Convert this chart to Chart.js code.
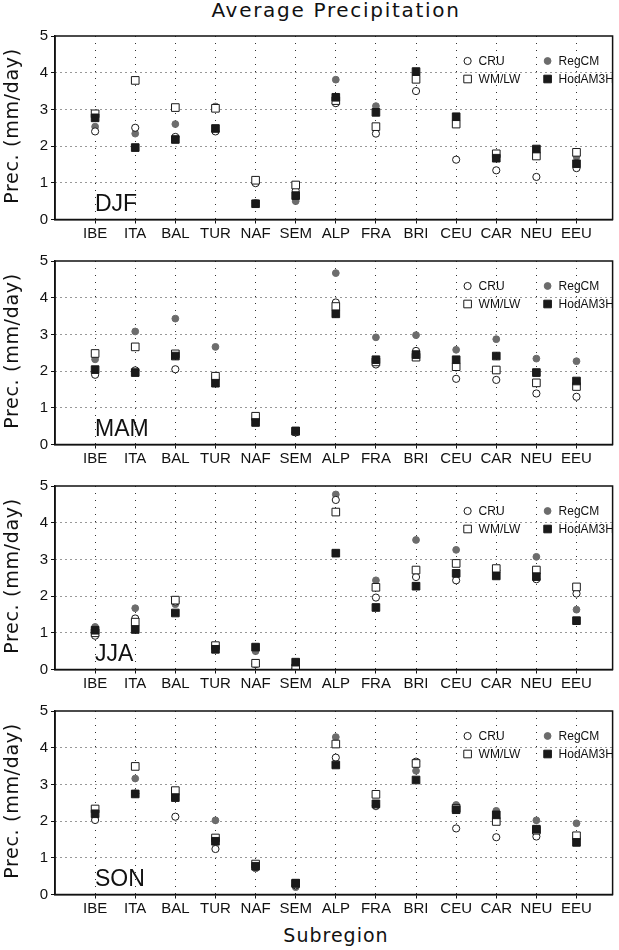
<!DOCTYPE html>
<html>
<head>
<meta charset="utf-8">
<script src="https://cdn.jsdelivr.net/npm/chart.js@4.4.1/dist/chart.umd.min.js"></script>
<style>
  body { margin: 0; width: 619px; height: 950px; position: relative; background: #fff; overflow: hidden; }
  .txt { position: absolute; color: #111; font-family: "DejaVu Sans", sans-serif; white-space: nowrap; }
  .panel { position: absolute; left: 0; width: 619px; height: 222px; }
</style>
</head>
<body>
<div class="txt" style="left:136px;width:400px;top:-2px;text-align:center;font-size:20px;letter-spacing:1.7px;">Average Precipitation</div>
<div class="txt" style="left:136px;width:400px;top:924px;text-align:center;font-size:19px;letter-spacing:1px;">Subregion</div>
<div id="panels"></div>
<script>
const regions = ['IBE', 'ITA', 'BAL', 'TUR', 'NAF', 'SEM', 'ALP', 'FRA', 'BRI', 'CEU', 'CAR', 'NEU', 'EEU'];
const seasons = ['DJF', 'MAM', 'JJA', 'SON'];
const seriesNames = ['CRU', 'RegCM', 'WM/LW', 'HodAM3H'];
const yTicks = [0, 1, 2, 3, 4, 5];

// mm/day per subregion, one array per series and season
const cruDJF   = [2.40, 2.50, 2.25, 2.40, 0.99, 0.78, 3.17, 2.34, 3.50, 1.63, 1.34, 1.16, 1.40];
const regcmDJF = [2.53, 2.34, 2.60, 3.08, 0.45, 0.50, 3.81, 3.09, 3.95, 2.70, 1.75, 1.80, 1.72];
const wmlwDJF  = [2.88, 3.79, 3.05, 3.03, 1.07, 0.94, 3.24, 2.53, 3.82, 2.60, 1.79, 1.73, 1.83];
const hadDJF   = [2.77, 1.96, 2.18, 2.48, 0.43, 0.65, 3.33, 2.92, 4.03, 2.80, 1.67, 1.92, 1.52];

const cruMAM   = [1.90, 2.02, 2.05, 1.82, 0.70, 0.33, 3.87, 2.18, 2.55, 1.79, 1.76, 1.39, 1.30];
const regcmMAM = [2.32, 3.08, 3.43, 2.66, 0.65, 0.33, 4.67, 2.92, 2.98, 2.58, 2.87, 2.34, 2.27];
const wmlwMAM  = [2.48, 2.66, 2.47, 1.86, 0.77, 0.36, 3.76, 2.25, 2.38, 2.12, 2.03, 1.68, 1.58];
const hadMAM   = [2.04, 1.96, 2.41, 1.67, 0.60, 0.37, 3.56, 2.31, 2.45, 2.31, 2.41, 1.96, 1.73];

const cruJJA   = [0.92, 1.39, 1.85, 0.65, 0.15, 0.03, 4.62, 1.96, 2.52, 2.43, 2.70, 2.46, 2.07];
const regcmJJA = [1.16, 1.67, 1.78, 0.60, 0.50, 0.10, 4.77, 2.43, 3.53, 3.26, 2.70, 3.07, 1.63];
const wmlwJJA  = [1.00, 1.29, 1.89, 0.65, 0.17, 0.04, 4.29, 2.24, 2.71, 2.89, 2.75, 2.71, 2.25];
const hadJJA   = [1.07, 1.09, 1.54, 0.55, 0.61, 0.20, 3.17, 1.69, 2.27, 2.62, 2.55, 2.53, 1.33];

const cruSON   = [2.03, 2.75, 2.12, 1.24, 0.75, 0.25, 3.73, 2.42, 3.62, 1.80, 1.56, 1.58, 1.55];
const regcmSON = [2.10, 3.16, 2.70, 2.02, 0.71, 0.20, 4.29, 2.40, 3.37, 2.44, 2.28, 2.02, 1.94];
const wmlwSON  = [2.33, 3.49, 2.83, 1.54, 0.83, 0.30, 4.10, 2.73, 3.57, 2.35, 1.99, 1.75, 1.60];
const hadSON   = [2.20, 2.74, 2.64, 1.45, 0.77, 0.31, 3.53, 2.47, 3.12, 2.31, 2.17, 1.78, 1.42];

const seasonData = {
  DJF: [cruDJF, regcmDJF, wmlwDJF, hadDJF],
  MAM: [cruMAM, regcmMAM, wmlwMAM, hadMAM],
  JJA: [cruJJA, regcmJJA, wmlwJJA, hadJJA],
  SON: [cruSON, regcmSON, wmlwSON, hadSON]
};

const panelTops = [32, 257, 482, 707];
const GRAY = '#6c6c6c';
const DARK = '#1a1a1a';

// marker look per series: CRU open circle, RegCM gray dot, WM/LW open square, HadAM3H black square
const styles = [
  { pointStyle: 'circle', radius: 3.6, fill: '#fff', stroke: DARK, order: 2 },
  { pointStyle: 'circle', radius: 3.4, fill: GRAY, stroke: GRAY, order: 3 },
  { pointStyle: 'rect', radius: 5.4, fill: '#fff', stroke: DARK, order: 1 },
  { pointStyle: 'rect', radius: 5.4, fill: DARK, stroke: DARK, order: 0 }
];

function marker(ctx, st, x, y) {
  ctx.fillStyle = st.fill;
  ctx.strokeStyle = st.stroke;
  ctx.lineWidth = 1;
  ctx.beginPath();
  if (st.pointStyle === 'circle') {
    ctx.arc(x, y, st.radius, 0, Math.PI * 2);
  } else {
    const s = st.radius * Math.SQRT1_2;
    ctx.rect(x - s, y - s, 2 * s, 2 * s);
  }
  ctx.fill();
  ctx.stroke();
}

const panelDeco = {
  id: 'panelDeco',
  afterDraw(chart, args, opts) {
    const { ctx, chartArea: a } = chart;
    ctx.save();
    ctx.strokeStyle = '#111';
    ctx.lineWidth = 1.5;
    ctx.strokeRect(a.left, a.top, a.right - a.left, a.bottom - a.top);

    ctx.fillStyle = '#111';
    ctx.font = '23px "Liberation Sans", sans-serif';
    ctx.textBaseline = 'alphabetic';
    ctx.fillText(opts.season, a.left + 40, a.bottom - 9);

    ctx.font = '12px "Liberation Sans Narrow", "Liberation Sans", sans-serif';
    ctx.textBaseline = 'middle';
    const cols = [a.right - 145, a.right - 65];
    const rows = [a.top + 25, a.top + 43];
    seriesNames.forEach((name, i) => {
      const x = cols[i % 2], y = rows[Math.floor(i / 2)];
      marker(ctx, styles[i], x, y);
      ctx.fillStyle = '#111';
      ctx.fillText(name, x + 11, y + 0.5);
    });
    ctx.restore();
  }
};

const holder = document.getElementById('panels');

seasons.forEach((season, p) => {
  const top = panelTops[p];
  const div = document.createElement('div');
  div.className = 'panel';
  div.style.top = (top - 8) + 'px';
  const canvas = document.createElement('canvas');
  canvas.width = 619;
  canvas.height = 222;
  div.appendChild(canvas);
  holder.appendChild(div);

  const ytitle = document.createElement('div');
  ytitle.className = 'txt';
  ytitle.textContent = 'Prec. (mm/day)';
  ytitle.style.cssText += 'left:11px;top:' + (top + 94) + 'px;font-size:19px;letter-spacing:0.7px;transform:translate(-50%,-50%) rotate(-90deg);';
  document.body.appendChild(ytitle);

  const datasets = seasonData[season].map((vals, i) => ({
    label: seriesNames[i],
    data: vals.map((v, k) => ({ x: k + 1, y: v })),
    pointStyle: styles[i].pointStyle,
    pointRadius: styles[i].radius,
    pointBackgroundColor: styles[i].fill,
    pointBorderColor: styles[i].stroke,
    pointBorderWidth: 1,
    showLine: false,
    order: styles[i].order
  }));

  new Chart(canvas, {
    type: 'scatter',
    data: { datasets },
    options: {
      responsive: false,
      animation: false,
      events: [],
      layout: { padding: { top: 8, right: 2, left: 0, bottom: 0 } },
      plugins: {
        legend: { display: false },
        tooltip: { enabled: false },
        panelDeco: { season }
      },
      scales: {
        x: {
          type: 'linear',
          min: 0,
          max: 13.9,
          afterBuildTicks: s => { s.ticks = regions.map((r, i) => ({ value: i + 1 })); },
          afterFit: s => { s.height = 26.5; },
          ticks: {
            autoSkip: false,
            maxRotation: 0,
            padding: 1,
            color: '#111',
            font: { family: '"Liberation Sans Narrow", "Liberation Sans", sans-serif', size: 15 },
            callback: v => regions[v - 1]
          },
          grid: { color: '#333', lineWidth: 1, tickLength: 4, tickColor: '#111' },
          border: { display: true, color: '#111', width: 1.5, dash: [1, 6] }
        },
        y: {
          min: 0,
          max: 5,
          afterBuildTicks: s => { s.ticks = yTicks.map(v => ({ value: v })); },
          afterFit: s => { s.width = 55; },
          ticks: {
            padding: 3,
            color: '#111',
            font: { family: '"Liberation Sans Narrow", "Liberation Sans", sans-serif', size: 15 }
          },
          grid: {
            color: c => (c.tick && (c.tick.value === 0 || c.tick.value === 5)) ? 'rgba(0,0,0,0)' : '#333',
            lineWidth: 1,
            tickLength: 4,
            tickColor: '#111'
          },
          border: { display: true, color: '#111', width: 1.5, dash: [1, 4] }
        }
      }
    },
    plugins: [panelDeco]
  });
});
</script>
</body>
</html>
